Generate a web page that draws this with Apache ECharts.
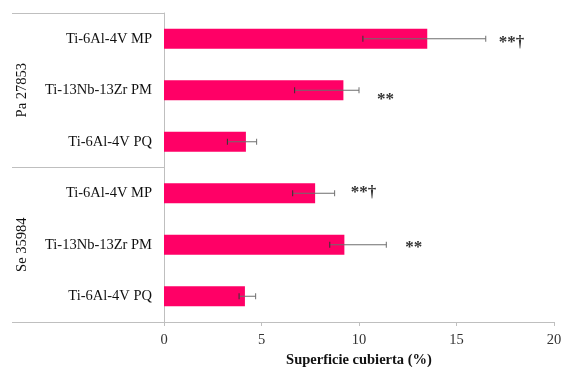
<!DOCTYPE html>
<html>
<head>
<meta charset="utf-8">
<script src="https://cdn.jsdelivr.net/npm/echarts@6/dist/echarts.min.js"></script>
<style>
  html, body { margin: 0; padding: 0; background: #fff; }
  #chart { width: 562px; height: 367px; }
</style>
</head>
<body>
<div id="chart"></div>
<script>
// Surface covered (%) per alloy and strain, top to bottom
const groups = ['Pa 27853', 'Se 35984'];
const categories = ['Ti-6Al-4V MP', 'Ti-13Nb-13Zr PM', 'Ti-6Al-4V PQ',
                    'Ti-6Al-4V MP', 'Ti-13Nb-13Zr PM', 'Ti-6Al-4V PQ'];
const values  = [13.5, 9.2, 4.2, 7.75, 9.25, 4.15];
const errLow  = [10.2, 6.7, 3.25, 6.6, 8.5, 3.85];
const errHigh = [16.5, 10.0, 4.75, 8.75, 11.4, 4.7];
const marks   = ['**†', '**', '', '**†', '**', ''];
const xTicks  = [0, 5, 10, 15, 20];

// Label placement relative to the end of each error bar (px)
const markShiftX = [13, 18, 0, 16, 19, 0];
const markShiftY = [4, 9, 0, -1, 3, 0];

const serif = '"Liberation Serif", "Times New Roman", serif';
const axisGray = '#bfbfbf';

const chart = echarts.init(document.getElementById('chart'));

chart.setOption({
  animation: false,
  grid: { left: 164, right: 8, top: 13, bottom: 45, outerBoundsMode: 'none', containLabel: false },
  xAxis: {
    type: 'value',
    min: xTicks[0],
    max: xTicks[xTicks.length - 1],
    interval: xTicks[1] - xTicks[0],
    splitLine: { show: false },
    axisLine: { show: true, lineStyle: { color: axisGray, width: 1 } },
    axisTick: { show: true, length: 4, lineStyle: { color: axisGray } },
    axisLabel: { fontFamily: serif, fontSize: 14.5, color: '#333', margin: 11 },
    name: 'Superficie cubierta (%)',
    nameLocation: 'middle',
    nameGap: 31,
    nameTextStyle: { fontFamily: serif, fontSize: 14.5, fontWeight: 'bold', color: '#111' }
  },
  yAxis: [
    {
      type: 'category',
      data: categories,
      inverse: true,
      axisLine: { show: true, lineStyle: { color: axisGray, width: 1 } },
      axisTick: { show: false },
      axisLabel: { fontFamily: serif, fontSize: 14.5, color: '#111', margin: 12 }
    },
    {
      type: 'category',
      data: groups,
      inverse: true,
      position: 'left',
      boundaryGap: true,
      axisLine: { show: false },
      axisTick: { show: true, length: 152, lineStyle: { color: axisGray, width: 1 } },
      axisLabel: { fontFamily: serif, fontSize: 14.5, color: '#111', rotate: 90, margin: 134 }
    }
  ],
  series: [
    {
      type: 'bar',
      yAxisIndex: 0,
      data: values,
      barWidth: 20,
      itemStyle: { color: '#ff0066' }
    },
    {
      type: 'custom',
      yAxisIndex: 0,
      data: values.map((v, i) => [errLow[i], errHigh[i], i]),
      encode: { x: [0, 1], y: 2 },
      z: 5,
      renderItem: function (params, api) {
        const i = api.value(2);
        const lo = api.coord([api.value(0), i]);
        const hi = api.coord([api.value(1), i]);
        const cap = 3;
        const style = { stroke: '#6e6e6e', lineWidth: 1 };
        const children = [
          { type: 'line', shape: { x1: lo[0], y1: lo[1], x2: hi[0], y2: hi[1] }, style: style },
          { type: 'line', shape: { x1: lo[0], y1: lo[1] - cap, x2: lo[0], y2: lo[1] + cap }, style: { stroke: '#333', lineWidth: 1 } },
          { type: 'line', shape: { x1: hi[0], y1: hi[1] - cap, x2: hi[0], y2: hi[1] + cap }, style: style }
        ];
        if (marks[i]) {
          children.push({
            type: 'text',
            style: {
              text: marks[i],
              x: hi[0] + markShiftX[i],
              y: hi[1] + markShiftY[i],
              textAlign: 'left',
              textVerticalAlign: 'middle',
              fontFamily: serif,
              fontSize: 17,
              fontWeight: 'bold',
              fill: '#333'
            }
          });
        }
        return { type: 'group', children: children };
      }
    }
  ]
});
</script>
</body>
</html>
